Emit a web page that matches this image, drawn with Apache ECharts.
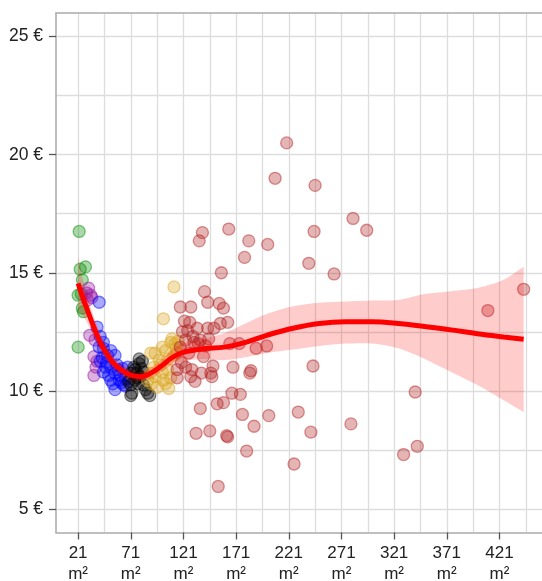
<!DOCTYPE html>
<html>
<head>
<meta charset="utf-8">
<script src="https://cdn.jsdelivr.net/npm/echarts@6/dist/echarts.min.js"></script>
<style>
  html, body { margin: 0; padding: 0; background: #fff; }
  #chart { width: 542px; height: 581px; }
</style>
</head>
<body>
<div id="chart"></div>
<script>
// Rent per m² against flat size, grouped by size class
const sizeClassGreen = [[22,16.75],[23,15.15],[28,15.25],[25,14.7],[21,14.05],[24,14.1],[25,13.5],[26,13.35],[21,11.85]];
const sizeClassPurple = [[31,14.35],[29,14.15],[33,14.05],[30,13.85],[34,13.95],[32,12.35],[37,12.15],[36,11.45],[39,11.25],[38,11.0],[36,10.65]];
const sizeClassBlue = [[41,13.75],[39,12.7],[42,12.3],[45,12.05],[41,11.85],[45,11.8],[52,11.7],[49,11.5],[56,11.5],[42,11.25],
  [47,11.0],[52,11.0],[58,11.1],[63,10.95],[68,11.0],[45,10.8],[50,10.65],[56,10.75],[61,10.65],[52,10.45],[60,10.45],[66,10.5],
  [56,10.05],[64,10.25],[66,10.2],[54,10.3],[59,10.9],[48,11.2],[62,10.35],[44,11.4]];
const sizeClassBlack = [[82,11.25],[79,11.15],[74,11.0],[71,10.75],[77,10.75],[80,10.6],[83,10.8],[75,10.45],[69,10.4],[83,10.25],
  [72,9.9],[87,9.9],[71,9.8],[89,9.8],[79,11.35],[75,10.9],[77,10.55],[71,10.25],[85,10.05],[78,10.3],[81,10.95]];
const sizeClassGold = [[112,14.4],[102,13.05],[110,12.2],[109,12.05],[101,11.85],[104,11.7],[90,11.6],[94,11.6],[98,11.3],[106,11.35],
  [112,11.5],[93,11.0],[101,10.8],[94,10.6],[90,10.75],[102,10.45],[107,10.1],[96,10.15],[109,10.55],[106,10.9],[87,10.45],[91,10.3],
  [114,11.8],[116,12.1],[99,11.1],[104,10.3],[113,12.0],[115,11.6]];
const sizeClassBrown = [[219,20.5],[208,19.0],[246,18.7],[282,17.3],[295,16.8],[139,16.7],[136,16.35],[164,16.85],[183,16.35],[201,16.2],
  [179,15.65],[245,16.75],[240,15.4],[157,15.0],[264,14.95],[141,14.2],[144,13.75],[155,13.7],[159,13.5],[118,13.55],[128,13.55],
  [122,12.95],[163,12.9],[156,12.85],[125,12.55],[134,12.65],[144,12.65],[150,12.65],[120,12.5],[123,12.15],[131,12.05],[137,12.15],
  [118,11.85],[165,12.0],[174,12.0],[190,11.8],[200,11.9],[140,11.45],[149,11.05],[168,11.0],[185,10.85],[184,10.75],[115,10.9],
  [123,11.0],[129,10.9],[128,10.6],[132,10.4],[138,10.75],[147,10.75],[148,10.6],[115,10.55],[244,11.05],[167,9.9],[175,9.85],
  [159,9.5],[153,9.45],[137,9.25],[177,9.0],[188,8.5],[133,8.2],[146,8.3],[162,8.1],[163,8.05],[181,7.45],[154,5.95],[202,8.95],
  [230,9.1],[242,8.25],[280,8.6],[226,6.9],[330,7.3],[343,7.65],[341,9.95],[410,13.4],[444,14.3],[130,12.3],[127,12.9],[135,12.0],
  [142,11.9],[119,11.2],[126,11.6],[145,12.2]];

// Smoothed trend and its confidence band
const fitArea  = [21,25,30,35,40,45,50,55,60,70,80,90,100,110,120,140,160,180,200,225,250,275,300,325,350,375,400,425,444];
const fitValue = [14.55,14.0,13.4,12.8,12.25,11.8,11.45,11.15,10.95,10.68,10.6,10.75,11.05,11.4,11.62,11.78,11.85,12.05,12.35,12.65,12.85,12.92,12.92,12.85,12.72,12.58,12.42,12.28,12.18];
const bandUpper = [15.7,14.8,13.95,13.25,12.65,12.15,11.8,11.45,11.22,10.9,10.8,10.98,11.32,11.72,12.0,12.2,12.45,12.85,13.25,13.58,13.73,13.78,13.82,13.85,14.1,14.22,14.35,14.7,15.25];
const bandLower = [13.4,13.2,12.85,12.35,11.85,11.45,11.1,10.85,10.68,10.46,10.4,10.52,10.8,11.08,11.25,11.35,11.3,11.42,11.6,11.75,11.9,12.0,12.0,11.8,11.35,10.8,10.25,9.6,9.1];

// Axis ticks and grid lines
const xTickValues = [21,71,121,171,221,271,321,371,421];
const xGridValues = [21,46,71,96,121,146,171,196,221,246,271,296,321,346,371,396,421,446];
const yTickValues = [5,10,15,20,25];
const yGridValues = [5,7.5,10,12.5,15,17.5,20,22.5,25];

const font = 'Liberation Sans, Arial, sans-serif';
const chart = echarts.init(document.getElementById('chart'), null, { renderer: 'canvas' });

function pointSeries(data, rgb) {
  return {
    type: 'scatter',
    data: data,
    symbol: 'circle',
    symbolSize: 12,
    z: 2,
    itemStyle: {
      color: 'rgba(' + rgb + ',0.42)',
      borderColor: 'rgba(' + rgb + ',0.6)',
      borderWidth: 1.3
    },
    emphasis: { disabled: true }
  };
}

const bandData = fitArea.map((a, i) => [a, bandLower[i], bandUpper[i]]);
const trendLine = fitArea.map((a, i) => [a, fitValue[i]]);

// The band is one closed shape: upper edge left to right, lower edge back.
// End points are doubled so the smoothing keeps square ends.
function renderBand(params, api) {
  if (params.dataIndex !== 0) return null;
  const upper = bandData.map(d => api.coord([d[0], d[2]]));
  const lower = bandData.map(d => api.coord([d[0], d[1]])).reverse();
  const n = upper.length;
  const pts = [upper[0]].concat(upper, [upper[n - 1], lower[0]], lower, [lower[n - 1]]);
  return {
    type: 'polygon',
    shape: { points: pts, smooth: 0.3 },
    style: { fill: 'rgba(255,0,0,0.2)', stroke: null },
    silent: true
  };
}

chart.setOption({
  animation: false,
  backgroundColor: '#fff',
  grid: { left: 56, top: 13, right: 0, height: 519.5, show: false, outerBoundsMode: 'none', containLabel: false },
  xAxis: [
    {
      type: 'value', min: 0, max: 461.4, position: 'bottom',
      axisLine: { show: true, onZero: false, lineStyle: { color: '#aaaaaa', width: 1.5 } },
      axisTick: { show: true, length: 7, customValues: xTickValues, lineStyle: { color: '#555', width: 1.3 } },
      axisLabel: {
        customValues: xTickValues, formatter: v => v + '\nm²',
        fontSize: 17, lineHeight: 21, margin: 10, color: '#222', fontFamily: font
      },
      splitLine: { show: false }
    },
    {
      type: 'value', min: 0, max: 461.4, position: 'top',
      axisLine: { show: true, onZero: false, lineStyle: { color: '#aaaaaa', width: 1.5 } },
      axisLabel: { show: false },
      axisTick: { show: false, customValues: xGridValues },
      splitLine: { show: true, lineStyle: { color: '#dddddd', width: 1.3 } }
    }
  ],
  yAxis: [
    {
      type: 'value', min: 4, max: 26,
      axisLine: { show: true, onZero: false, lineStyle: { color: '#aaaaaa', width: 1.5 } },
      axisTick: { show: true, length: 7, customValues: yTickValues, lineStyle: { color: '#555', width: 1.3 } },
      axisLabel: {
        customValues: yTickValues, formatter: v => v + ' €',
        fontSize: 17.5, margin: 13, color: '#222', fontFamily: font
      },
      splitLine: { show: false }
    },
    {
      type: 'value', min: 4, max: 26,
      axisLine: { show: false }, axisLabel: { show: false },
      axisTick: { show: false, customValues: yGridValues },
      splitLine: { show: true, lineStyle: { color: '#dddddd', width: 1.3 } }
    }
  ],
  series: [
    pointSeries(sizeClassGreen, '0,140,0'),
    pointSeries(sizeClassPurple, '150,20,160'),
    pointSeries(sizeClassBlue, '0,0,255'),
    pointSeries(sizeClassBlack, '0,0,0'),
    pointSeries(sizeClassGold, '218,165,32'),
    pointSeries(sizeClassBrown, '178,34,34'),
    {
      type: 'custom', data: bandData, renderItem: renderBand,
      encode: { x: 0, y: [1, 2] }, z: 3, silent: true, clip: true
    },
    {
      type: 'line', data: trendLine, smooth: 0.4, symbol: 'none', z: 4, silent: true,
      lineStyle: { color: '#ff0000', width: 5, cap: 'butt' }
    }
  ]
});
</script>
</body>
</html>
